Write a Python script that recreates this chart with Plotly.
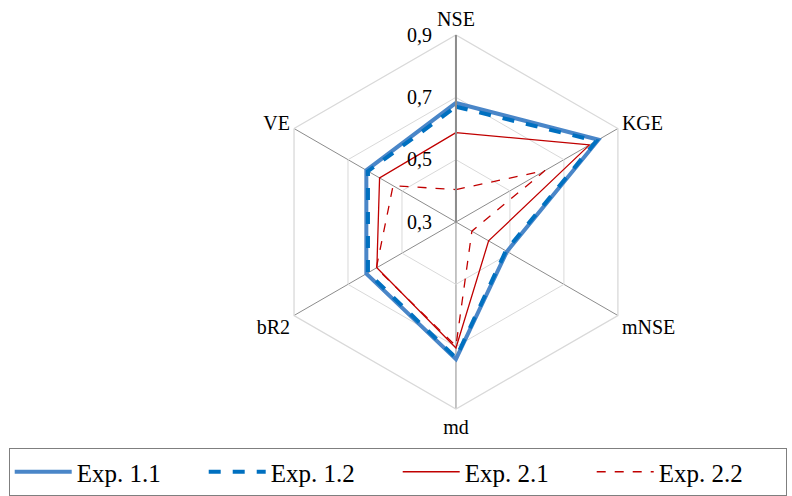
import plotly.graph_objects as go

# Performance metrics shown on each spoke (clockwise from the top)
metrics = ["NSE", "KGE", "mNSE", "md", "bR2", "VE"]

exp_1_1 = [0.682, 0.828, 0.489, 0.740, 0.632, 0.632]
exp_1_2 = [0.670, 0.820, 0.485, 0.736, 0.626, 0.626]
exp_2_1 = [0.587, 0.795, 0.421, 0.704, 0.593, 0.583]
exp_2_2 = [0.404, 0.630, 0.359, 0.698, 0.595, 0.533]

tick_vals = [0.3, 0.5, 0.7, 0.9]
tick_text = ["0,3", "0,5", "0,7", "0,9"]

series = [
    ("Exp. 1.1", exp_1_1, "#4A86C8", 4.0, "solid"),
    ("Exp. 1.2", exp_1_2, "#0070C0", 4.0, "dash"),
    ("Exp. 2.1", exp_2_1, "#C00000", 1.3, "solid"),
    ("Exp. 2.2", exp_2_2, "#C00000", 1.3, "dash"),
]

fig = go.Figure()
for name, vals, color, width, dash in series:
    fig.add_trace(go.Scatterpolar(
        r=vals + vals[:1],
        theta=metrics + metrics[:1],
        mode="lines",
        name=name,
        line=dict(color=color, width=width, dash=dash),
    ))

font_family = "Liberation Serif, Times New Roman, serif"

fig.update_layout(
    width=792,
    height=496,
    margin=dict(l=0, r=0, t=0, b=0),
    paper_bgcolor="white",
    plot_bgcolor="white",
    font=dict(family=font_family, size=20, color="black"),
    polar=dict(
        domain=dict(x=[0.3396, 0.8118], y=[0.1754, 0.9294]),
        bgcolor="white",
        gridshape="linear",
        radialaxis=dict(
            range=[0.3, 0.9],
            angle=90,
            side="counterclockwise",
            tickvals=tick_vals,
            ticktext=tick_text,
            tickangle=90,
            tickfont=dict(size=20, family=font_family),
            showline=True,
            linecolor="#8C8C8C",
            linewidth=2,
            gridcolor="#D9D9D9",
            gridwidth=1.3,
            ticks="outside",
            ticklen=16,
            tickcolor="rgba(0,0,0,0)",
        ),
        angularaxis=dict(
            direction="clockwise",
            rotation=90,
            tickfont=dict(size=20, family=font_family),
            showline=True,
            linecolor="#D9D9D9",
            linewidth=1.3,
            gridcolor="#8C8C8C",
            gridwidth=1.3,
            ticks="",
        ),
    ),
    legend=dict(
        orientation="h",
        x=0.011,
        y=0.0,
        xanchor="left",
        yanchor="bottom",
        bordercolor="#7F7F7F",
        borderwidth=1,
        font=dict(size=25, family=font_family),
        entrywidth=122,
        itemwidth=57,
        traceorder="normal",
    ),
)

fig.write_html("out.html")
